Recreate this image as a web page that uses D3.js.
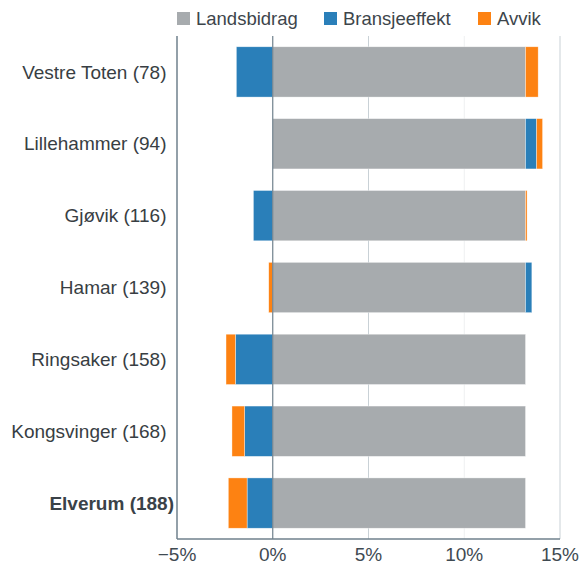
<!DOCTYPE html>
<html>
<head>
<meta charset="utf-8">
<script src="https://cdn.jsdelivr.net/npm/d3@7"></script>
<style>
  body { margin: 0; background: #fff; overflow: hidden; }
  svg { display: block; }
  text { font-family: "Liberation Sans", Arial, sans-serif; }
</style>
</head>
<body>
<div id="chart"></div>
<script>
// Kommuner med rangering
const categories = ['Vestre Toten (78)', 'Lillehammer (94)', 'Gjøvik (116)', 'Hamar (139)',
    'Ringsaker (158)', 'Kongsvinger (168)', 'Elverum (188)'];
const seriesNames = ['Landsbidrag', 'Bransjeeffekt', 'Avvik'];
const landsbidrag = [13.2, 13.2, 13.2, 13.2, 13.2, 13.2, 13.2];
const bransjeeffekt = [-1.9, 0.58, -1.01, 0.33, -1.95, -1.47, -1.34];
const avvik = [0.66, 0.31, 0.08, -0.21, -0.49, -0.66, -0.98];
const xTicks = [-5, 0, 5, 10, 15];
const colors = ['#a7abae', '#2a7fb9', '#fd8212'];

const width = 581, height = 566;
const margin = { top: 36, right: 21, bottom: 27, left: 177 };
const innerWidth = width - margin.left - margin.right;
const innerHeight = height - margin.top - margin.bottom;

const rows = categories.map((c, i) => ({
    name: c,
    Landsbidrag: landsbidrag[i],
    Bransjeeffekt: bransjeeffekt[i],
    Avvik: avvik[i]
}));

const stacked = d3.stack()
    .keys(seriesNames)
    .offset(d3.stackOffsetDiverging)(rows);

const svg = d3.select('#chart').append('svg')
    .attr('width', width)
    .attr('height', height);

const g = svg.append('g')
    .attr('transform', `translate(${margin.left},${margin.top})`);

const x = d3.scaleLinear().domain([-5, 15]).range([0, innerWidth]);
const y = d3.scaleBand().domain(categories).range([0, innerHeight])
    .paddingInner(0.3).paddingOuter(0.15);

// rutenett
g.selectAll('.grid')
    .data(xTicks.filter(t => t !== -5 && t !== 0))
    .enter().append('line')
    .attr('x1', d => x(d)).attr('x2', d => x(d))
    .attr('y1', 0).attr('y2', innerHeight)
    .attr('stroke', d => d === 10 ? '#eef0f1' : '#c9d1d6')
    .attr('stroke-width', 1);

// stolper
g.selectAll('.series')
    .data(stacked)
    .enter().append('g')
    .attr('fill', (d, i) => colors[i])
    .selectAll('rect')
    .data(d => d)
    .enter().append('rect')
    .attr('x', d => x(Math.min(d[0], d[1])))
    .attr('width', d => Math.abs(x(d[1]) - x(d[0])))
    .attr('y', d => y(d.data.name))
    .attr('height', y.bandwidth())
    .attr('stroke', '#fff')
    .attr('stroke-opacity', 0.6)
    .attr('stroke-width', 0.6);

// nullinje
g.append('line')
    .attr('x1', x(0)).attr('x2', x(0))
    .attr('y1', 0).attr('y2', innerHeight)
    .attr('stroke', '#6f818c')
    .attr('stroke-width', 1.2);

// akser
g.append('line')
    .attr('x1', 0).attr('x2', 0)
    .attr('y1', 0).attr('y2', innerHeight)
    .attr('stroke', '#6f818c').attr('stroke-width', 1.5);
g.append('line')
    .attr('x1', 0).attr('x2', innerWidth)
    .attr('y1', innerHeight).attr('y2', innerHeight)
    .attr('stroke', '#6f818c').attr('stroke-width', 1.5);

// x-etiketter
g.selectAll('.xtick')
    .data(xTicks)
    .enter().append('text')
    .attr('x', d => x(d))
    .attr('y', innerHeight + 22)
    .attr('text-anchor', 'middle')
    .style('font-size', '19px')
    .style('fill', '#3f4a52')
    .text(d => (d < 0 ? '\u2212' + Math.abs(d) : d) + '%');

// y-etiketter (den siste er uthevet og står litt lenger til høyre)
const last = categories.length - 1;
g.selectAll('.ylabel')
    .data(categories)
    .enter().append('text')
    .attr('x', (d, i) => i === last ? -3 : -10.5)
    .attr('y', d => y(d) + y.bandwidth() / 2)
    .attr('dy', '0.35em')
    .attr('text-anchor', 'end')
    .style('font-size', '19px')
    .style('font-weight', (d, i) => i === last ? 'bold' : 'normal')
    .style('fill', (d, i) => i === last ? '#3a4248' : '#383e43')
    .text(d => d);

// tegnforklaring
const legendX = [177, 324, 478];
const legend = svg.selectAll('.legend')
    .data(seriesNames)
    .enter().append('g')
    .attr('transform', (d, i) => `translate(${legendX[i]},12)`);
legend.append('rect')
    .attr('width', 13).attr('height', 13)
    .attr('fill', (d, i) => colors[i]);
legend.append('text')
    .attr('x', 19).attr('y', 7)
    .attr('dy', '0.35em')
    .style('font-size', '18.5px')
    .style('fill', '#3d454b')
    .text(d => d);
</script>
</body>
</html>
